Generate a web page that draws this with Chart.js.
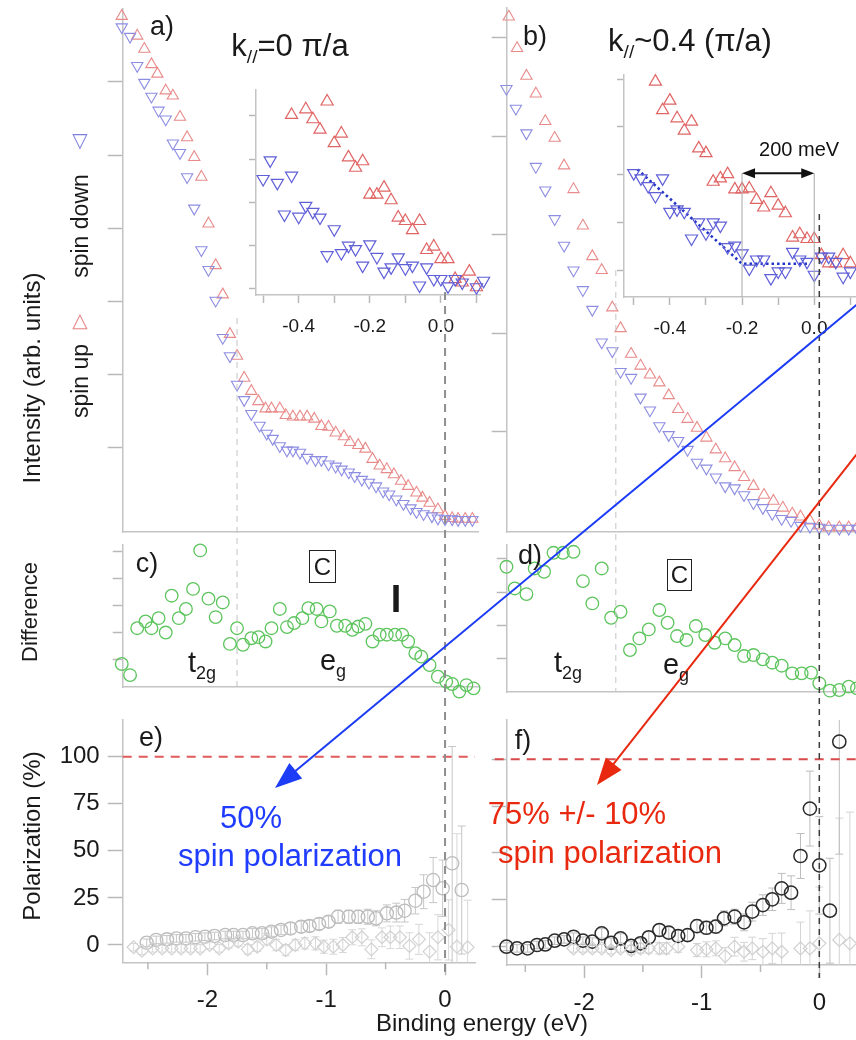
<!DOCTYPE html>
<html lang="en">
<head>
<meta charset="utf-8">
<title>Spin-resolved photoemission and spin polarization</title>
<script src="https://cdn.jsdelivr.net/npm/chart.js@4.4.1/dist/chart.umd.min.js"></script>
<style>
  html, body { margin:0; padding:0; background:#fff; }
  body { width:856px; height:1040px; overflow:hidden; }
  #fig { position:relative; width:856px; height:1040px; overflow:hidden;
         font-family:"Liberation Sans", Arial, Helvetica, sans-serif; color:#1a1a1a; }
  #fig canvas { position:absolute; z-index:1; }
  #fig svg { position:absolute; left:0; top:0; z-index:2; }
  .lbl { position:absolute; z-index:3; white-space:nowrap; line-height:1; transform:translate(-50%,-50%); }
  .rot { transform:translate(-50%,-50%) rotate(-90deg); }
  .sub { font-size:0.62em; position:relative; top:0.38em; }
  .boxed { position:absolute; z-index:3; border:1.5px solid #222; box-sizing:border-box;
           display:flex; align-items:center; justify-content:center; font-size:24px; line-height:1; }
</style>
</head>
<body>
<div id="fig">
  <div class="lbl" style="left:162px;top:26px;font-size:27px">a)</div>
  <div class="lbl" style="left:290px;top:45px;font-size:31px">k<span class="sub">//</span>=0 π/a</div>
  <div class="lbl" style="left:535px;top:36px;font-size:27px">b)</div>
  <div class="lbl" style="left:690px;top:40px;font-size:31px">k<span class="sub">//</span>~0.4 (π/a)</div>

  <div class="lbl rot" style="left:32px;top:378px;font-size:24px">Intensity (arb. units)</div>
  <div class="lbl rot" style="left:80px;top:226px;font-size:23px">spin down</div>
  <div class="lbl rot" style="left:80px;top:381px;font-size:23px">spin up</div>
  <div class="lbl" style="left:80px;top:140px;font-size:20px;color:#7f7fe0;font-family:'DejaVu Sans'">▽</div>
  <div class="lbl" style="left:80px;top:320px;font-size:20px;color:#e88585;font-family:'DejaVu Sans'">△</div>

  <div class="lbl rot" style="left:30px;top:612px;font-size:22px">Difference</div>
  <div class="lbl" style="left:147px;top:563px;font-size:27px">c)</div>
  <div class="lbl" style="left:530px;top:555px;font-size:27px">d)</div>
  <div class="boxed" style="left:309px;top:550px;width:27px;height:33px">C</div>
  <div class="boxed" style="left:667px;top:559px;width:25px;height:32px">C</div>
  <div class="lbl" style="left:396px;top:599px;font-size:38px;font-weight:bold">I</div>
  <div class="lbl" style="left:202px;top:662px;font-size:29px">t<span class="sub">2g</span></div>
  <div class="lbl" style="left:333px;top:660px;font-size:29px">e<span class="sub">g</span></div>
  <div class="lbl" style="left:568px;top:662px;font-size:29px">t<span class="sub">2g</span></div>
  <div class="lbl" style="left:676px;top:664px;font-size:29px">e<span class="sub">g</span></div>

  <div class="lbl rot" style="left:32px;top:836px;font-size:24px">Polarization (%)</div>
  <div class="lbl" style="left:151px;top:737px;font-size:27px">e)</div>
  <div class="lbl" style="left:523px;top:740px;font-size:27px">f)</div>
  <div class="lbl" style="left:251px;top:817px;font-size:31px;color:#1f3cff">50%</div>
  <div class="lbl" style="left:290px;top:855px;font-size:31px;color:#1f3cff">spin polarization</div>
  <div class="lbl" style="left:577px;top:813px;font-size:31px;color:#e8290f">75% +/- 10%</div>
  <div class="lbl" style="left:610px;top:852px;font-size:31px;color:#e8290f">spin polarization</div>
  <div class="lbl" style="left:482px;top:1023px;font-size:24px">Binding energy (eV)</div>
</div>

<script>
// ---------- measured series (binding energy in eV, intensity / difference in arb. units, polarization in %) ----------

// a) k// = 0, spin up / spin down intensity
const aUpX = [-2.72,-2.59,-2.53,-2.47,-2.42,-2.35,-2.29,-2.23,-2.17,-2.11,-2.05,-1.99,-1.93,-1.87,-1.81,-1.75,-1.69,-1.63,-1.57,-1.51,-1.46,-1.39,-1.34,-1.28,-1.22,-1.16,-1.10,-1.04,-0.98,-0.92,-0.85,-0.80,-0.73,-0.67,-0.61,-0.55,-0.49,-0.43,-0.37,-0.31,-0.24,-0.19,-0.13,-0.06,0.00,0.06,0.11,0.17,0.23];
const aUpY = [6.90,6.63,6.45,6.24,6.11,5.88,5.81,5.52,5.24,4.97,4.70,4.06,3.49,3.09,2.55,2.25,1.95,1.77,1.63,1.53,1.53,1.53,1.44,1.42,1.42,1.42,1.39,1.29,1.28,1.20,1.15,1.07,1.03,0.98,0.84,0.75,0.70,0.63,0.54,0.47,0.38,0.31,0.24,0.15,0.06,0.03,0.02,0.02,0.02];
const aDownX = [-2.72,-2.65,-2.59,-2.53,-2.47,-2.41,-2.35,-2.29,-2.23,-2.17,-2.11,-2.05,-1.99,-1.93,-1.87,-1.81,-1.75,-1.69,-1.63,-1.56,-1.50,-1.45,-1.39,-1.33,-1.28,-1.22,-1.16,-1.09,-1.04,-0.98,-0.92,-0.87,-0.81,-0.76,-0.70,-0.64,-0.58,-0.52,-0.47,-0.41,-0.35,-0.29,-0.24,-0.18,-0.11,-0.06,0.00,0.06,0.11,0.17,0.23];
const aDownY = [6.75,6.62,6.22,5.99,5.80,5.61,5.49,5.16,5.03,4.70,4.27,3.70,3.43,3.01,2.50,2.25,1.86,1.65,1.46,1.30,1.19,1.12,1.02,0.96,0.96,0.93,0.86,0.83,0.83,0.77,0.74,0.70,0.66,0.61,0.56,0.52,0.47,0.40,0.36,0.29,0.23,0.17,0.12,0.09,0.06,0.03,0.02,0.02,0.01,0.01,0.01];

// a) inset, near the Fermi level
const insAUpX = [-0.42,-0.38,-0.36,-0.34,-0.32,-0.30,-0.28,-0.26,-0.24,-0.22,-0.20,-0.18,-0.16,-0.14,-0.12,-0.10,-0.08,-0.06,-0.04,-0.02,0.00,0.02,0.04,0.06,0.08,0.10];
const insAUpY = [4.02,4.15,3.92,3.68,4.33,3.37,3.59,3.04,2.80,2.95,2.18,2.18,2.34,2.05,1.65,1.57,1.36,1.57,0.90,0.98,0.69,0.69,0.23,0.15,0.40,0.04];
const insADownX = [-0.50,-0.48,-0.46,-0.44,-0.42,-0.40,-0.38,-0.36,-0.34,-0.32,-0.30,-0.28,-0.26,-0.24,-0.22,-0.20,-0.18,-0.16,-0.14,-0.12,-0.10,-0.08,-0.06,-0.04,-0.02,0.00,0.02,0.04,0.06,0.10,0.12];
const insADownY = [2.54,2.97,2.45,1.72,2.62,1.67,1.92,1.78,1.65,0.78,1.38,0.83,1.00,0.92,0.54,1.03,0.74,0.40,0.50,0.73,0.48,0.54,0.08,0.50,0.23,0.23,0.06,0.23,0.15,0.04,0.19];

// b) k// ~ 0.4 pi/a, spin up / spin down intensity
const bUpX = [-2.64,-2.57,-2.49,-2.41,-2.33,-2.25,-2.17,-2.09,-2.01,-1.93,-1.85,-1.76,-1.69,-1.60,-1.52,-1.44,-1.36,-1.28,-1.20,-1.12,-1.04,-0.96,-0.88,-0.80,-0.72,-0.64,-0.56,-0.47,-0.39,-0.31,-0.23,-0.16,-0.08,0.00,0.08,0.17,0.25,0.32];
const bUpY = [5.21,4.89,4.61,4.43,4.15,3.98,3.70,3.46,3.09,2.78,2.64,2.26,2.05,1.79,1.67,1.58,1.50,1.37,1.23,1.13,1.04,0.94,0.82,0.73,0.64,0.54,0.45,0.36,0.30,0.23,0.17,0.14,0.10,0.05,0.03,0.03,0.03,0.03];
const bDownX = [-2.66,-2.58,-2.49,-2.41,-2.33,-2.25,-2.17,-2.09,-2.01,-1.93,-1.85,-1.76,-1.69,-1.60,-1.52,-1.44,-1.36,-1.28,-1.20,-1.12,-1.04,-0.96,-0.88,-0.80,-0.72,-0.64,-0.56,-0.48,-0.40,-0.32,-0.24,-0.16,-0.08,0.00,0.08,0.17,0.25,0.32];
const bDownY = [4.48,4.28,4.03,3.69,3.45,3.16,2.89,2.64,2.44,2.24,1.91,1.82,1.61,1.55,1.35,1.22,1.06,0.97,0.91,0.82,0.69,0.63,0.54,0.45,0.43,0.36,0.28,0.23,0.17,0.12,0.10,0.05,0.04,0.03,0.02,0.02,0.02,0.02];

// b) inset, with the linear + constant fit of the spin-down edge
const insBUpX = [-0.44,-0.42,-0.40,-0.38,-0.36,-0.34,-0.32,-0.30,-0.28,-0.26,-0.24,-0.22,-0.20,-0.18,-0.16,-0.14,-0.12,-0.10,-0.08,-0.06,-0.04,-0.02,0.00,0.02,0.04,0.06,0.08,0.10];
const insBUpY = [3.95,3.35,3.55,3.18,2.92,3.11,2.55,2.45,1.85,1.92,2.01,1.69,1.69,1.71,1.47,1.31,1.61,1.35,1.19,0.68,0.75,0.65,0.65,0.31,0.14,0.14,0.31,0.14];
const insBDownX = [-0.50,-0.48,-0.46,-0.44,-0.42,-0.40,-0.38,-0.36,-0.34,-0.32,-0.30,-0.28,-0.26,-0.24,-0.22,-0.20,-0.18,-0.16,-0.14,-0.12,-0.10,-0.08,-0.06,-0.04,-0.02,0.00,0.02,0.04,0.06,0.08,0.10];
const insBDownY = [2.03,1.92,1.76,1.55,1.92,1.22,1.27,1.22,0.66,1.00,0.77,1.00,0.93,0.48,0.51,0.35,0.03,0.22,0.22,-0.17,-0.03,-0.03,0.38,0.22,0.17,-0.10,0.28,0.28,0.17,-0.14,-0.03];
const fitX = [-0.49,-0.20,-0.02];
const fitY = [2.11,0.13,0.13];
const gapFrom = -0.2, gapTo = 0.0, gapLevel = 2.03, gapText = '200 meV';

// c), d) spin difference
const cX = [-2.72,-2.65,-2.59,-2.52,-2.47,-2.41,-2.35,-2.30,-2.24,-2.18,-2.12,-2.06,-1.99,-1.93,-1.87,-1.81,-1.75,-1.70,-1.63,-1.57,-1.51,-1.46,-1.39,-1.33,-1.27,-1.20,-1.15,-1.08,-1.04,-0.97,-0.91,-0.84,-0.78,-0.73,-0.67,-0.61,-0.55,-0.49,-0.42,-0.36,-0.31,-0.25,-0.20,-0.13,-0.06,0.01,0.06,0.12,0.18,0.24];
const cY = [0.85,0.44,2.17,2.42,2.17,2.54,2.01,3.37,2.54,2.88,3.62,5.04,3.26,2.58,3.12,1.59,2.17,1.56,1.80,1.84,1.68,2.17,2.88,2.21,2.36,2.54,2.91,2.88,2.42,2.79,2.26,2.26,2.11,2.23,2.33,1.68,1.93,1.93,1.93,1.93,1.68,1.25,1.12,0.81,0.38,0.20,0.11,-0.17,0.07,-0.05];
const dX = [-2.66,-2.59,-2.49,-2.42,-2.34,-2.26,-2.18,-2.09,-2.01,-1.93,-1.85,-1.77,-1.69,-1.61,-1.53,-1.45,-1.36,-1.29,-1.21,-1.13,-1.05,-0.97,-0.89,-0.80,-0.72,-0.64,-0.56,-0.48,-0.40,-0.32,-0.23,-0.15,-0.07,0.00,0.09,0.17,0.25,0.32];
const dY = [3.76,3.11,2.94,3.71,3.61,4.18,4.18,4.21,3.33,2.66,3.71,2.23,2.41,1.26,1.61,1.88,2.46,2.08,1.68,1.56,1.98,1.71,1.48,1.61,1.41,1.08,1.11,0.98,0.88,0.79,0.56,0.56,0.58,0.26,0.04,0.06,0.16,0.11];

// e), f) spin polarization (circles) and reference (diamonds), with errors
const eCircX = [-2.51,-2.43,-2.34,-2.26,-2.18,-2.10,-2.02,-1.94,-1.85,-1.78,-1.70,-1.62,-1.54,-1.46,-1.38,-1.30,-1.21,-1.14,-1.06,-0.98,-0.90,-0.81,-0.73,-0.65,-0.58,-0.49,-0.41,-0.34,-0.25,-0.18,-0.10,-0.02,0.06,0.14];
const eCircY = [1.2,2.7,3.0,3.5,3.5,4.1,4.4,4.8,5.3,5.3,5.3,6.2,6.2,7.1,8.0,8.8,9.7,10.1,11.2,12.4,15.0,15.0,15.0,15.0,14.2,16.8,17.2,18.2,23.5,28.3,34.5,30.1,43.4,29.2];
const eCircErr = [2,2,2,2,2,2,2,2,2,2,2,2.5,2.5,2.5,2.5,3,3,3,3,3,3.5,3.5,3.5,4,4,4.5,5,6,7,9,12,15,62,34];
const eDiaX = [-2.62,-2.55,-2.46,-2.38,-2.30,-2.22,-2.14,-2.06,-1.98,-1.90,-1.82,-1.74,-1.66,-1.58,-1.50,-1.42,-1.34,-1.26,-1.18,-1.09,-1.02,-0.94,-0.86,-0.78,-0.70,-0.62,-0.53,-0.46,-0.38,-0.30,-0.22,-0.13,-0.06,0.03,0.10,0.19];
const eDiaY = [-1.2,-3.0,-1.8,-1.8,-1.8,-1.8,-1.8,-1.8,0,-1.8,0.9,1.8,-2.3,-0.9,3.0,0,-2.7,0,0.9,0.9,-0.9,-0.9,0,4.1,4.1,-2.3,4.1,4.1,4.1,-0.5,3.0,-3.5,4.1,8.0,-0.9,-1.2];
const eDiaErr = [2,2,2,2,2,2,2,2,2,2,2.5,2.5,2.5,2.5,3,3,3,3,3,3.5,3.5,4,4,4,4.5,5,5,6,6,7,8,10,12,16,60,25];
const fCircX = [-2.66,-2.57,-2.48,-2.40,-2.33,-2.25,-2.17,-2.09,-2.01,-1.93,-1.85,-1.77,-1.69,-1.60,-1.52,-1.45,-1.36,-1.28,-1.20,-1.12,-1.04,-0.96,-0.88,-0.81,-0.72,-0.64,-0.57,-0.48,-0.40,-0.32,-0.24,-0.16,-0.08,0.00,0.09,0.17];
const fCircY = [0,-0.9,-0.9,0.9,1.2,3.2,3.9,5.3,3.2,2.7,7.1,2.1,4.4,0.4,1.8,5.0,8.9,7.5,5.7,6.2,11.0,10.1,10.7,15.1,16.0,13.0,18.7,22.2,25.3,31.1,28.8,48.4,73.7,43.4,19.2,109.4];
const fCircErr = [2,2,2,2,2,2,2,2,2,2,2.5,2.5,2.5,2.5,2.5,3,3,3,3,3,3.5,3.5,3.5,4,4,4.5,5,5.5,6,8,9,12,20,26,28,60];
const fDiaX = [-2.09,-2.01,-1.93,-1.85,-1.77,-1.69,-1.60,-1.52,-1.45,-1.36,-1.30,-1.20,-1.04,-0.96,-0.88,-0.80,-0.72,-0.64,-0.57,-0.48,-0.40,-0.32,-0.16,-0.08,0.00,0.17,0.26];
const fDiaY = [-0.9,-0.9,-0.9,-0.9,-1.8,-0.9,-1.8,-0.9,-0.9,-0.9,-0.9,0,-1.8,-1.4,-0.9,-5.0,0,-2.7,-0.9,-2.7,-0.9,-2.7,-0.9,-0.9,1.8,3.6,1.8];
const fDiaErr = [2,2,2,2,2,2,2.5,2.5,2.5,3,3,3,3.5,4,4,4.5,5,5,6,7,8,10,14,20,30,65,70];

// ---------- tick values and labels ----------
const intensityTicksA = [1,2,3,4,5,6];
const intensityTicksB = [1,2,3,4,5];
const diffTicksC = [1,2,3,4,5];
const diffTicksD = [1,2,3,4];
const insetYTicks = [0,1,2,3,4];
const insetXTicks = [-0.5,-0.4,-0.3,-0.2,-0.1,0.0,0.1];
const insetXLabels = ['','-0.4','','-0.2','','0.0',''];
const polTicks = [0,25,50,75,100];
const polLabels = ['0','25','50','75','100'];
const energyTicks = [-2,-1,0];
const energyLabels = ['-2','-1','0'];
const energyMinorTicks = [-2.5,-1.5,-0.5];
const fullPolarization = 100;
const fermiLevel = 0;
const t2gEdgeA = -1.75, t2gEdgeB = -1.73;

// ---------- drawing ----------
const FONT = '"Liberation Sans", Arial, Helvetica, sans-serif';
Chart.defaults.font.family = FONT;
Chart.defaults.color = '#1a1a1a';
const fig = document.getElementById('fig');
const pts = (xs, ys) => xs.map((x, i) => ({ x, y: ys[i] }));

// extra per-chart drawing: error bars, reference lines, minor ticks, energy-gap marker
const decorFor = new Map();
Chart.register({
  id: 'decor',
  beforeDatasetsDraw(chart) {
    const d = decorFor.get(chart.canvas);
    if (!d || !d.errorBars) return;
    const { ctx, chartArea: ca } = chart;
    const xs = chart.scales.x, ys = chart.scales.y;
    ctx.save();
    ctx.beginPath();
    ctx.rect(ca.left - 10, ca.top, ca.right - ca.left + 20, ca.bottom - ca.top);
    ctx.clip();
    d.errorBars.forEach(eb => {
      ctx.strokeStyle = eb.color;
      ctx.lineWidth = eb.width;
      ctx.beginPath();
      eb.x.forEach((xv, i) => {
        const px = xs.getPixelForValue(xv);
        const lo = ys.getPixelForValue(eb.y[i] - eb.err[i]);
        const hi = ys.getPixelForValue(eb.y[i] + eb.err[i]);
        ctx.moveTo(px, lo); ctx.lineTo(px, hi);
        ctx.moveTo(px - eb.cap, lo); ctx.lineTo(px + eb.cap, lo);
        ctx.moveTo(px - eb.cap, hi); ctx.lineTo(px + eb.cap, hi);
      });
      ctx.stroke();
    });
    ctx.restore();
  },
  afterDatasetsDraw(chart) {
    const d = decorFor.get(chart.canvas);
    if (!d) return;
    const { ctx, chartArea: ca } = chart;
    const xs = chart.scales.x, ys = chart.scales.y;
    ctx.save();
    (d.refLines || []).forEach(r => {
      const py = ys.getPixelForValue(r.value);
      ctx.strokeStyle = r.color; ctx.lineWidth = r.width; ctx.setLineDash(r.dash);
      ctx.beginPath(); ctx.moveTo(ca.left - r.extendLeft, py); ctx.lineTo(ca.right, py); ctx.stroke();
    });
    ctx.setLineDash([]);
    if (d.minorTicks) {
      ctx.strokeStyle = d.minorTicks.color; ctx.lineWidth = 1.5;
      ctx.beginPath();
      d.minorTicks.values.forEach(v => {
        const px = xs.getPixelForValue(v);
        ctx.moveTo(px, ca.bottom); ctx.lineTo(px, ca.bottom + d.minorTicks.length);
      });
      ctx.stroke();
    }
    if (d.gap) {
      const g = d.gap;
      const x1 = xs.getPixelForValue(g.from), x2 = xs.getPixelForValue(g.to), py = ys.getPixelForValue(g.level);
      ctx.strokeStyle = '#a8a8a8'; ctx.lineWidth = 1;
      ctx.beginPath();
      ctx.moveTo(x1, py); ctx.lineTo(x1, ca.bottom);
      ctx.moveTo(x2, py); ctx.lineTo(x2, ca.bottom);
      ctx.stroke();
      ctx.strokeStyle = '#111'; ctx.fillStyle = '#111'; ctx.lineWidth = 2;
      ctx.beginPath(); ctx.moveTo(x1 + 8, py); ctx.lineTo(x2 - 8, py); ctx.stroke();
      ctx.beginPath();
      ctx.moveTo(x1, py); ctx.lineTo(x1 + 13, py - 5); ctx.lineTo(x1 + 13, py + 5); ctx.closePath();
      ctx.moveTo(x2, py); ctx.lineTo(x2 - 13, py - 5); ctx.lineTo(x2 - 13, py + 5); ctx.closePath();
      ctx.fill();
      ctx.font = '20px ' + FONT; ctx.textAlign = 'center'; ctx.textBaseline = 'middle';
      ctx.fillText(g.text, xs.getPixelForValue(g.textAt), ys.getPixelForValue(g.textLevel));
    }
    ctx.restore();
  }
});

function axis(ax, isX, size) {
  const hasTicks = ax.ticks && ax.ticks.length > 0;
  const vals = hasTicks ? ax.ticks : [ax.min];
  return {
    type: 'linear',
    position: isX ? 'bottom' : 'left',
    min: ax.min, max: ax.max,
    afterBuildTicks: s => { s.ticks = vals.map(v => ({ value: v })); },
    afterFit: s => { if (isX) s.height = size; else s.width = size; },
    ticks: {
      display: !!ax.labels, autoSkip: false, maxRotation: 0, minRotation: 0,
      padding: ax.pad || 6, color: '#1a1a1a',
      font: { size: ax.fontSize || 23, family: FONT },
      callback: (v, i) => (ax.labels ? ax.labels[i] : '')
    },
    grid: {
      display: true, drawOnChartArea: false, drawTicks: hasTicks,
      tickLength: ax.tickLength || 0, tickColor: '#b8b8b8', tickWidth: 1.5
    },
    border: { display: true, color: '#c4c4c4', width: 1.5 }
  };
}

function panel(cb, area, xa, ya, datasets, decor) {
  const W = cb.r - cb.l, H = cb.b - cb.t;
  const yw = ya.boxWidth || Math.max(ya.tickLength || 0, 1);
  const xh = cb.b - area.b;
  const c = document.createElement('canvas');
  c.width = W; c.height = H;
  Object.assign(c.style, { left: cb.l + 'px', top: cb.t + 'px', width: W + 'px', height: H + 'px' });
  fig.appendChild(c);
  if (decor) decorFor.set(c, decor);
  const chart = new Chart(c, {
    type: 'scatter',
    data: { datasets },
    options: {
      responsive: false, animation: false, events: [], devicePixelRatio: 1,
      layout: { padding: { left: area.l - cb.l - yw, top: area.t - cb.t, right: cb.r - area.r, bottom: 0 } },
      plugins: { legend: { display: false }, tooltip: { enabled: false } },
      scales: { x: axis(xa, true, xh), y: axis(ya, false, yw) }
    }
  });
  chart.$box = cb;
  return chart;
}

const marks = (data, style, color, r, w, rot) => ({
  data, pointStyle: style, pointRotation: rot || 0, pointRadius: r,
  pointBorderColor: color, pointBackgroundColor: 'rgba(0,0,0,0)', pointBorderWidth: w,
  showLine: false, clip: false
});

const RED_FAINT = '#e98b8b', BLUE_FAINT = '#8d8de2';
const RED = '#e06464', BLUE = '#5f5fd8', GREEN = '#5cc45c';

// a) main intensity panel
panel({ l: 60, t: 0, r: 500, b: 560 }, { l: 122.7, t: 8.8, r: 478.3, b: 531.7 },
  { min: -2.712, max: 0.28 },
  { min: -0.153, max: 7.0, ticks: intensityTicksA, tickLength: 15 },
  [marks(pts(aDownX, aDownY), 'triangle', BLUE_FAINT, 6.5, 1.1, 180),
   marks(pts(aUpX, aUpY), 'triangle', RED_FAINT, 6.5, 1.1)]);

// b) main intensity panel
panel({ l: 470, t: 0, r: 890, b: 560 }, { l: 506.7, t: 6, r: 872, b: 531.7 },
  { min: -2.658, max: 0.448 },
  { min: -0.012, max: 5.303, ticks: intensityTicksB, tickLength: 15 },
  [marks(pts(bDownX, bDownY), 'triangle', BLUE_FAINT, 6.5, 1.1, 180),
   marks(pts(bUpX, bUpY), 'triangle', RED_FAINT, 6.5, 1.1)]);

// c), d) difference panels
const chartC = panel({ l: 60, t: 520, r: 500, b: 710 }, { l: 122.7, t: 545, r: 478.3, b: 687 },
  { min: -2.712, max: 0.28 },
  { min: 0, max: 5.24, ticks: diffTicksC, tickLength: 10 },
  [marks(pts(cX, cY), 'circle', GREEN, 6.3, 1.3)]);
const chartD = panel({ l: 470, t: 520, r: 890, b: 710 }, { l: 506.7, t: 545, r: 872, b: 692 },
  { min: -2.658, max: 0.448 },
  { min: 0, max: 4.414, ticks: diffTicksD, tickLength: 10 },
  [marks(pts(dX, dY), 'circle', GREEN, 6.3, 1.3)]);

// e), f) polarization panels
const chartE = panel({ l: 20, t: 690, r: 500, b: 1030 }, { l: 122.7, t: 720, r: 475, b: 962.3 },
  { min: -2.712, max: 0.252, ticks: energyTicks, labels: energyLabels, tickLength: 13, pad: 11, fontSize: 24 },
  { min: -9.19, max: 119.49, ticks: polTicks, labels: polLabels, tickLength: 15, pad: 8, fontSize: 24, boxWidth: 80 },
  [marks(pts(eDiaX, eDiaY), 'rectRot', '#d2d2d2', 6.5, 1.2),
   marks(pts(eCircX, eCircY), 'circle', '#bcbcbc', 6.6, 1.3)],
  {
    errorBars: [
      { x: eDiaX, y: eDiaY, err: eDiaErr, color: '#d8d8d8', width: 1, cap: 4 },
      { x: eCircX, y: eCircY, err: eCircErr, color: '#c6c6c6', width: 1, cap: 4 }
    ],
    refLines: [{ value: fullPolarization, color: '#e35a5a', width: 2, dash: [9, 7], extendLeft: 0 }],
    minorTicks: { values: energyMinorTicks, length: 7, color: '#b8b8b8' }
  });
const chartF = panel({ l: 470, t: 690, r: 890, b: 1030 }, { l: 506.7, t: 720, r: 872, b: 965 },
  { min: -2.658, max: 0.448, ticks: energyTicks, labels: energyLabels, tickLength: 13, pad: 11, fontSize: 24 },
  { min: -9.77, max: 120.97, ticks: polTicks, tickLength: 15 },
  [marks(pts(fDiaX, fDiaY), 'rectRot', '#d0d0d0', 6.5, 1.2),
   marks(pts(fCircX, fCircY), 'circle', '#2b2b2b', 6.6, 1.5)],
  {
    errorBars: [
      { x: fDiaX, y: fDiaY, err: fDiaErr, color: '#d4d4d4', width: 1, cap: 4 },
      { x: fCircX, y: fCircY, err: fCircErr, color: '#bdbdbd', width: 1, cap: 4 }
    ],
    refLines: [{ value: fullPolarization, color: '#d94a4a', width: 2, dash: [9, 7], extendLeft: 12 }],
    minorTicks: { values: energyMinorTicks, length: 7, color: '#b8b8b8' }
  });

// insets near the Fermi level
panel({ l: 200, t: 60, r: 500, b: 350 }, { l: 256, t: 90, r: 480, b: 295 },
  { min: -0.52, max: 0.11, ticks: insetXTicks, labels: insetXLabels, tickLength: 8, pad: 12, fontSize: 19 },
  { min: -0.139, max: 4.596, ticks: insetYTicks, tickLength: 7 },
  [marks(pts(insADownX, insADownY), 'triangle', BLUE, 7, 1.2, 180),
   marks(pts(insAUpX, insAUpY), 'triangle', RED, 7, 1.2)]);
panel({ l: 580, t: 50, r: 890, b: 350 }, { l: 624, t: 75, r: 872, b: 297 },
  { min: -0.527, max: 0.16, ticks: insetXTicks, labels: insetXLabels, tickLength: 8, pad: 12, fontSize: 19 },
  { min: -0.566, max: 4.088, ticks: insetYTicks, tickLength: 7 },
  [marks(pts(insBDownX, insBDownY), 'triangle', BLUE, 7, 1.2, 180),
   marks(pts(insBUpX, insBUpY), 'triangle', RED, 7, 1.2),
   { type: 'line', data: pts(fitX, fitY), showLine: true, borderColor: '#2233c8', borderWidth: 2.6,
     borderDash: [2.5, 3], pointRadius: 0, fill: false, clip: false }],
  { gap: { from: gapFrom, to: gapTo, level: gapLevel, text: gapText, textAt: -0.042, textLevel: 2.5 } });

// guide lines and arrows spanning several panels
const svgNS = 'http://www.w3.org/2000/svg';
const svg = document.createElementNS(svgNS, 'svg');
svg.setAttribute('width', 856); svg.setAttribute('height', 1040);
fig.appendChild(svg);
function seg(x1, y1, x2, y2, stroke, w, dash) {
  const l = document.createElementNS(svgNS, 'line');
  l.setAttribute('x1', x1); l.setAttribute('y1', y1); l.setAttribute('x2', x2); l.setAttribute('y2', y2);
  l.setAttribute('stroke', stroke); l.setAttribute('stroke-width', w);
  if (dash) l.setAttribute('stroke-dasharray', dash);
  svg.appendChild(l);
}
function arrow(x1, y1, tx, ty, color) {
  const dx = tx - x1, dy = ty - y1, len = Math.hypot(dx, dy);
  const ux = dx / len, uy = dy / len, hl = 27, hw = 10;
  const bx = tx - ux * hl, by = ty - uy * hl;
  seg(x1, y1, bx + ux * 2, by + uy * 2, color, 2);
  const p = document.createElementNS(svgNS, 'polygon');
  p.setAttribute('points', `${tx},${ty} ${bx - uy * hw},${by + ux * hw} ${bx + uy * hw},${by - ux * hw}`);
  p.setAttribute('fill', color);
  svg.appendChild(p);
}
const pageX = (chart, v) => chart.scales.x.getPixelForValue(v) + chart.$box.l;
seg(pageX(chartE, fermiLevel), 292, pageX(chartE, fermiLevel), 978, '#8e8e8e', 2, '8 6');
seg(pageX(chartF, fermiLevel), 214, pageX(chartF, fermiLevel), 978, '#3c3c3c', 1.5, '6 5');
seg(pageX(chartC, t2gEdgeA), 318, pageX(chartC, t2gEdgeA), 688, '#c4c4c4', 1, '6 5');
seg(pageX(chartD, t2gEdgeB), 270, pageX(chartD, t2gEdgeB), 692, '#c4c4c4', 1, '6 5');
arrow(860, 302, 275, 788, '#1d3cf5');
arrow(860, 450, 597, 785, '#e8290f');
</script>
</body>
</html>
